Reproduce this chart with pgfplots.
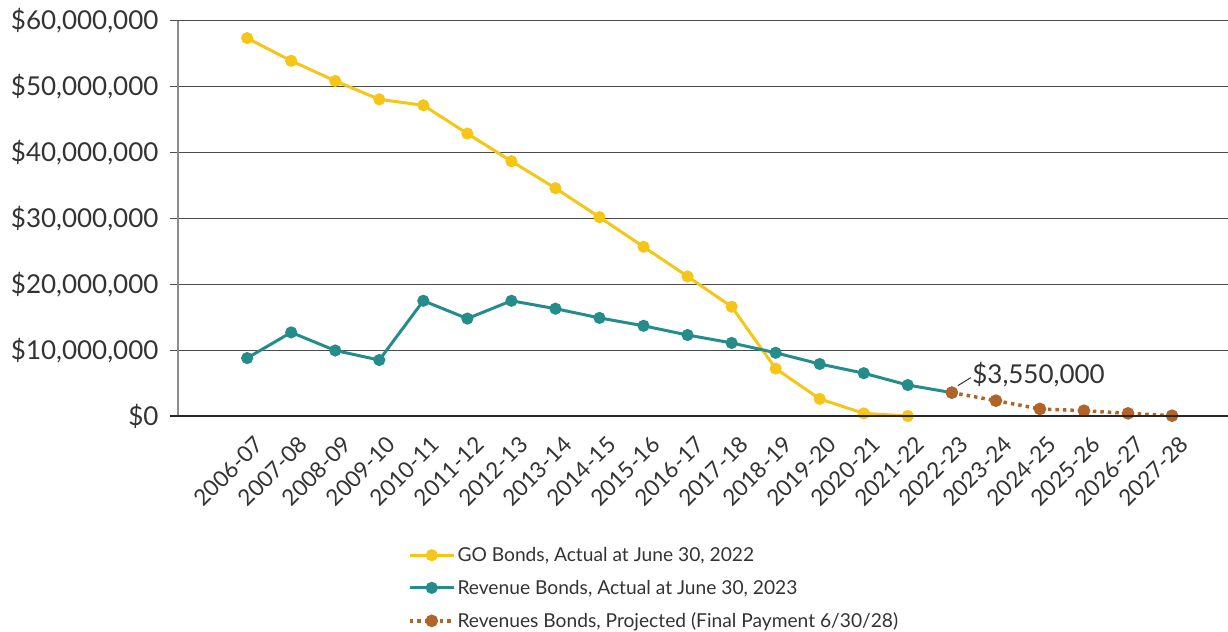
\documentclass[border=0pt]{standalone}
\usepackage{fontspec}
\setmainfont{Lato}
\usepackage{pgfplots}
\pgfplotsset{compat=1.18}
\definecolor{goyellow}{RGB}{245,198,24}
\definecolor{revteal}{RGB}{36,140,138}
\definecolor{projbrown}{RGB}{176,100,40}
\definecolor{txt}{RGB}{51,51,51}

\begin{document}
\begin{tikzpicture}
\begin{axis}[
  name=ax,
  scale only axis,
  width=1050pt, height=395pt,
  xmin=-1.57, xmax=22.27,
  ymin=0, ymax=60000000,
  axis x line*=bottom,
  axis y line*=left,
  x axis line style={draw=none},
  y axis line style={-, draw=black!45, line width=1.5pt},
  xtick={0,...,21},
  xticklabels={2006-07,2007-08,2008-09,2009-10,2010-11,2011-12,2012-13,2013-14,2014-15,2015-16,2016-17,2017-18,2018-19,2019-20,2020-21,2021-22,2022-23,2023-24,2024-25,2025-26,2026-27,2027-28},
  xticklabel style={rotate=45, anchor=north east, inner sep=0pt, text=txt,
    font=\fontsize{22.5}{25}\selectfont, xshift=-3pt, yshift=-12pt},
  xtick style={draw=none},
  ytick={0,10000000,20000000,30000000,40000000,50000000,60000000},
  yticklabels={\$0,\$10{,}000{,}000,\$20{,}000{,}000,\$30{,}000{,}000,\$40{,}000{,}000,\$50{,}000{,}000,\$60{,}000{,}000},
  yticklabel style={font=\fontsize{26}{29}\selectfont, text=txt, xshift=-8pt},
  ymajorgrids,
  y grid style={black!70, line width=1pt},
  major tick length=8pt,
  ytick style={black!70, line width=1pt},
  tick align=outside,
  scaled y ticks=false,
  clip=false,
  legend style={at={(0.216,-0.322)}, anchor=north west, draw=none, fill=none,
    font=\fontsize{19.2}{22}\selectfont, text=txt, row sep=13pt,
    /tikz/every even column/.append style={column sep=4pt}},
  legend cell align=left,
  legend image code/.code={\draw[mark repeat=2, mark phase=2] plot coordinates {(0pt,0pt) (22pt,0pt) (44pt,0pt)};},
]
\addplot[goyellow, line width=3pt, mark=*, mark size=4.5pt] coordinates {
  (0,57400000) (1,53950000) (2,50900000) (3,48100000) (4,47200000) (5,42900000)
  (6,38700000) (7,34600000) (8,30200000) (9,25700000) (10,21200000) (11,16600000)
  (12,7200000) (13,2600000) (14,400000) (15,0)
};
\addlegendentry{GO Bonds, Actual at June 30, 2022}
\addplot[revteal, line width=3pt, mark=*, mark size=4.5pt] coordinates {
  (0,8800000) (1,12700000) (2,9950000) (3,8500000) (4,17500000) (5,14800000)
  (6,17500000) (7,16300000) (8,14900000) (9,13700000) (10,12300000) (11,11100000)
  (12,9600000) (13,7900000) (14,6500000) (15,4700000) (16,3550000)
};
\addlegendentry{Revenue Bonds, Actual at June 30, 2023}
\addplot[projbrown, line width=3.5pt, dash pattern=on 3.5pt off 4pt, mark=*, mark size=4.5pt, mark options={solid}] coordinates {
  (16,3550000) (17,2330000) (18,1070000) (19,800000) (20,400000) (21,50000)
};
\addlegendentry{Revenues Bonds, Projected (Final Payment 6/30/28)}
\draw[black!80, line width=1pt] ([xshift=6pt,yshift=7pt]axis cs:16,3550000) -- ++(13pt,8pt)
  node[anchor=west, inner sep=1pt, yshift=3pt, text=txt, font=\fontsize{26}{29}\selectfont] {\$3,550,000};
\end{axis}
\draw[black!85, line width=1.2pt] ([xshift=-8pt]ax.south west) -- (ax.south east);
\pgfresetboundingbox
\path[use as bounding box] ([shift={(-178pt,-216pt)}]ax.south west) rectangle ([shift={(0pt,21pt)}]ax.north east);
\end{tikzpicture}
\end{document}
